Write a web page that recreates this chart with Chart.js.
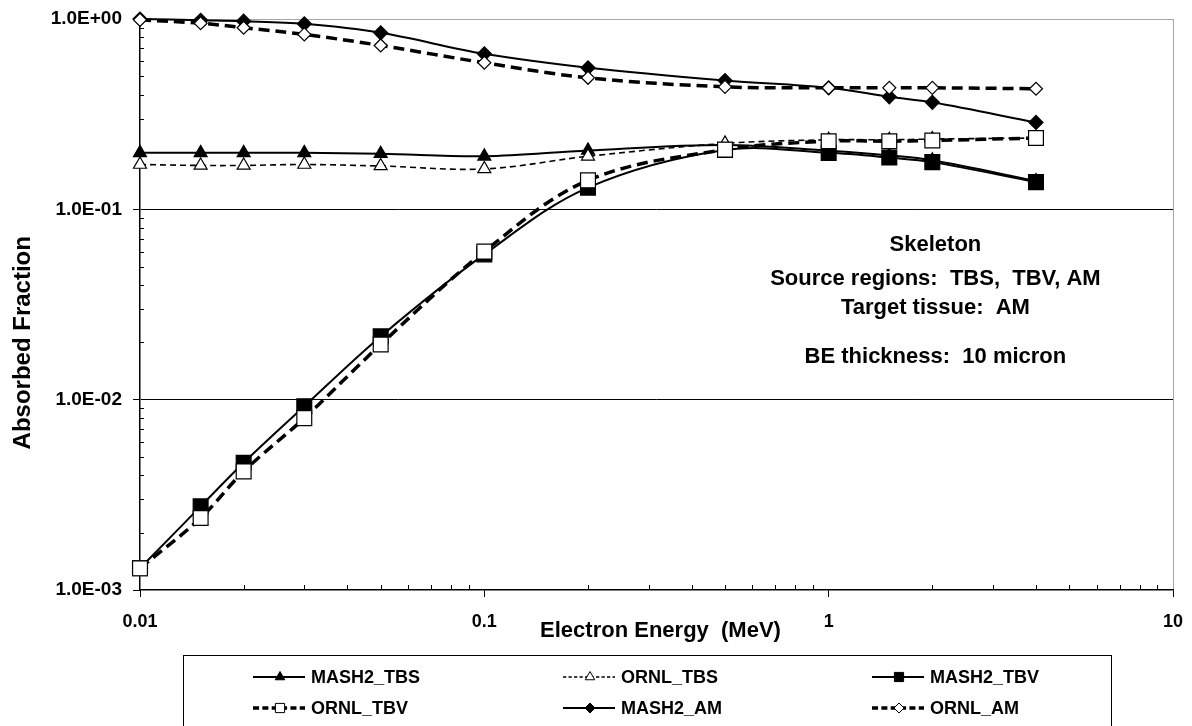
<!DOCTYPE html>
<html>
<head>
<meta charset="utf-8">
<script src="https://cdn.jsdelivr.net/npm/chart.js@4.4.1/dist/chart.umd.min.js"></script>
<style>
  html, body { margin: 0; padding: 0; background: #fff; }
  #wrap { width: 1192px; height: 726px; }
</style>
</head>
<body>
<div id="wrap"><canvas id="chart" width="1192" height="726"></canvas></div>
<script>
// Electron energies (MeV)
const energies = [0.01, 0.015, 0.02, 0.03, 0.05, 0.1, 0.2, 0.5, 1, 1.5, 2, 4];

// Absorbed fractions to active marrow, per source region
const mash2TBS = [0.198, 0.198, 0.198, 0.198, 0.196, 0.190, 0.204, 0.218, 0.203, 0.192, 0.181, 0.141];
const ornlTBS  = [0.172, 0.170, 0.170, 0.172, 0.169, 0.163, 0.190, 0.222, 0.232, 0.232, 0.234, 0.237];
const mash2TBV = [0.0013, 0.00275, 0.00466, 0.00923, 0.0215, 0.058, 0.130, 0.205, 0.198, 0.187, 0.177, 0.139];
const ornlTBV  = [0.0013, 0.00239, 0.0042, 0.0080, 0.0195, 0.060, 0.142, 0.206, 0.228, 0.228, 0.230, 0.237];
const mash2AM  = [1.0, 0.985, 0.974, 0.943, 0.846, 0.656, 0.554, 0.475, 0.435, 0.390, 0.365, 0.286];
const ornlAM   = [0.99, 0.95, 0.90, 0.83, 0.726, 0.589, 0.491, 0.440, 0.435, 0.435, 0.435, 0.430];

// Axis tick labels
const xTickValues = [0.01, 0.1, 1, 10];
const yTickValues = [0.001, 0.01, 0.1, 1];

// Text blocks
const xTitle = 'Electron Energy  (MeV)';
const yTitle = 'Absorbed Fraction';
const noteLines = ['Skeleton', 'Source regions:  TBS,  TBV, AM', 'Target tissue:  AM', 'BE thickness:  10 micron'];

const FONT = '"Liberation Sans", Arial, Helvetica, sans-serif';

const seriesStyle = [
  { label: 'MASH2_TBS', values: mash2TBS, shape: 'triangle', filled: true,  r: 7.5, lw: 2,   dash: [] },
  { label: 'ORNL_TBS',  values: ornlTBS,  shape: 'triangle', filled: false, r: 7.5, lw: 1.6, dash: [6, 4] },
  { label: 'MASH2_TBV', values: mash2TBV, shape: 'rect',     filled: true,  r: 10.5, lw: 2,  dash: [] },
  { label: 'ORNL_TBV',  values: ornlTBV,  shape: 'rect',     filled: false, r: 10.5, lw: 3.5, dash: [11, 6] },
  { label: 'MASH2_AM',  values: mash2AM,  shape: 'rectRot',  filled: true,  r: 7,   lw: 2,   dash: [] },
  { label: 'ORNL_AM',   values: ornlAM,   shape: 'rectRot',  filled: false, r: 6.5, lw: 3.5, dash: [11, 6] }
];

const datasets = seriesStyle.map((s, i) => ({
  label: s.label,
  data: energies.map((e, k) => ({ x: e, y: s.values[k] })),
  borderColor: '#000',
  borderWidth: s.lw,
  borderDash: s.dash,
  backgroundColor: s.filled ? '#000' : '#fff',
  pointStyle: s.shape,
  pointRadius: s.r,
  pointBackgroundColor: s.filled ? '#000' : '#fff',
  pointBorderColor: '#000',
  pointBorderWidth: 1.2,
  pointHoverRadius: s.r,
  tension: 0.35,
  fill: false,
  clip: false,
  order: seriesStyle.length - i   // later series drawn on top
}));

function sciLabel(v) {
  const e = Math.round(Math.log10(v));
  return '1.0E' + (e < 0 ? '-' : '+') + String(Math.abs(e)).padStart(2, '0');
}

// Short inward minor ticks on both log axes
const minorTicks = {
  id: 'minorTicks',
  beforeDatasetsDraw(chart) {
    const { ctx, chartArea: a, scales: { x, y } } = chart;
    ctx.save();
    ctx.strokeStyle = '#000';
    ctx.lineWidth = 1;
    ctx.beginPath();
    for (let e = -3; e < 0; e++) {
      for (let d = 2; d <= 9; d++) {
        const py = Math.round(y.getPixelForValue(d * Math.pow(10, e))) + 0.5;
        ctx.moveTo(a.left, py); ctx.lineTo(a.left + 4, py);
      }
    }
    for (let e = -2; e < 1; e++) {
      for (let d = 2; d <= 9; d++) {
        const px = Math.round(x.getPixelForValue(d * Math.pow(10, e))) + 0.5;
        ctx.moveTo(px, a.bottom); ctx.lineTo(px, a.bottom - 5);
      }
    }
    ctx.stroke();
    ctx.restore();
  }
};

function drawMarker(ctx, s, x, y, r) {
  ctx.save();
  ctx.setLineDash([]);
  ctx.fillStyle = s.filled ? '#000' : '#fff';
  ctx.strokeStyle = '#000';
  ctx.lineWidth = 1;
  Chart.helpers.drawPoint(ctx, { pointStyle: s.shape, radius: r, rotation: 0, borderWidth: 1 }, x, y);
  ctx.restore();
}

// Axis titles, the text note and the boxed legend
const textLayer = {
  id: 'textLayer',
  afterDraw(chart) {
    const { ctx, chartArea: a } = chart;
    ctx.save();
    ctx.fillStyle = '#000';
    ctx.textBaseline = 'middle';
    ctx.textAlign = 'center';

    // x-axis title
    ctx.font = 'bold 22px ' + FONT;
    ctx.fillText(xTitle, (a.left + a.right) / 2 + 4, a.bottom + 41);

    // y-axis title
    ctx.save();
    ctx.translate(23, a.top + (a.bottom - a.top) * 0.567);
    ctx.rotate(-Math.PI / 2);
    ctx.font = 'bold 24px ' + FONT;
    ctx.fillText(yTitle, 0, 0);
    ctx.restore();

    // note
    ctx.font = 'bold 22px ' + FONT;
    const nx = a.left + (a.right - a.left) * 0.77;
    const ny = a.top + (a.bottom - a.top) * 0.392 + 2;
    const offsets = [0, 34, 63, 112];
    noteLines.forEach((line, i) => ctx.fillText(line, nx, ny + offsets[i]));

    // legend box
    ctx.strokeStyle = '#000';
    ctx.lineWidth = 1;
    ctx.strokeRect(183.5, 655.5, 928, 90);
    const colX = [253, 563, 872];
    const rowY = [677, 708];
    const smallR = { triangle: 5.5, rect: 6.5, rectRot: 5 };
    ctx.textAlign = 'left';
    ctx.font = 'bold 18px ' + FONT;
    seriesStyle.forEach((s, i) => {
      const cx = colX[i % 3];
      const cy = rowY[Math.floor(i / 3)];
      ctx.save();
      ctx.strokeStyle = '#000';
      ctx.lineWidth = s.lw;
      ctx.setLineDash(s.dash.length ? s.dash.map(d => d * 0.55) : []);
      ctx.beginPath();
      ctx.moveTo(cx, cy); ctx.lineTo(cx + 52, cy);
      ctx.stroke();
      ctx.restore();
      drawMarker(ctx, s, cx + 27, cy, smallR[s.shape]);
      ctx.fillStyle = '#000';
      ctx.fillText(s.label, cx + 58, cy + 1);
    });
    ctx.restore();
  }
};

new Chart(document.getElementById('chart'), {
  type: 'line',
  data: { datasets },
  plugins: [minorTicks, textLayer],
  options: {
    responsive: false,
    animation: false,
    devicePixelRatio: 1,
    layout: { padding: { top: 19, right: 19, left: 0, bottom: 0 } },
    plugins: { legend: { display: false }, tooltip: { enabled: false } },
    scales: {
      x: {
        type: 'logarithmic',
        min: 0.01,
        max: 10,
        afterBuildTicks: s => { s.ticks = xTickValues.map(v => ({ value: v, major: true })); },
        afterFit: s => { s.height = 136; s.paddingLeft = 0; s.paddingRight = 0; },
        ticks: {
          callback: v => String(v),
          font: { family: FONT, size: 18, weight: 'bold' },
          color: '#000',
          padding: 14,
          maxRotation: 0,
          autoSkip: false
        },
        grid: {
          drawOnChartArea: true,
          color: c => (c.tick && c.tick.value === 10) ? '#a6a6a6' : 'rgba(0,0,0,0)',
          tickColor: '#000',
          tickLength: 7,
          lineWidth: 1
        },
        border: { color: '#000', width: 1.5 }
      },
      y: {
        type: 'logarithmic',
        min: 0.001,
        max: 1,
        afterBuildTicks: s => { s.ticks = yTickValues.map(v => ({ value: v, major: true })); },
        afterFit: s => { s.width = 140; s.paddingTop = 0; s.paddingBottom = 0; },
        ticks: {
          callback: v => sciLabel(v),
          font: { family: FONT, size: 19, weight: 'bold' },
          color: '#000',
          padding: 11,
          autoSkip: false
        },
        grid: {
          drawOnChartArea: true,
          color: c => {
            if (!c.tick) return 'rgba(0,0,0,0)';
            if (c.tick.value === 1) return '#a6a6a6';
            if (c.tick.value === 0.001) return 'rgba(0,0,0,0)';
            return '#000';
          },
          tickColor: '#000',
          tickLength: 7,
          lineWidth: 1
        },
        border: { color: '#000', width: 1.5 }
      }
    }
  }
});
</script>
</body>
</html>
